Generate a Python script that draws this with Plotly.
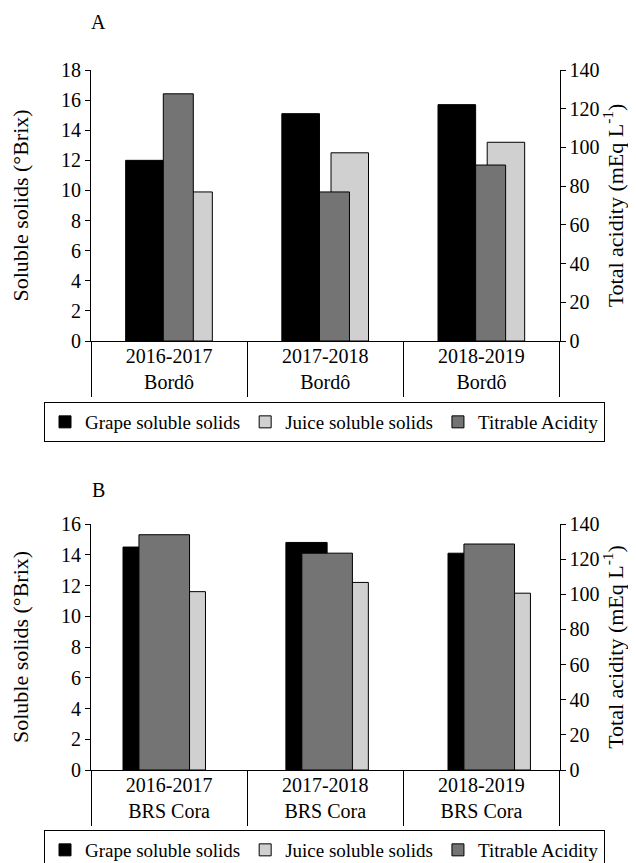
import plotly.graph_objects as go

# ---------------- data ----------------
seasons = ["2016-2017", "2017-2018", "2018-2019"]
cultivar_a = "Bordô"
cultivar_b = "BRS Cora"

grape_a = [12.0, 15.1, 15.7]      # °Brix
juice_a = [9.9, 12.5, 13.2]       # °Brix
acid_a = [127.7, 77.0, 90.9]      # mEq L-1

grape_b = [14.5, 14.8, 14.1]
juice_b = [11.6, 12.2, 11.5]
acid_b = [133.9, 123.4, 128.6]

series_names = ["Grape soluble solids", "Juice soluble solids", "Titrable Acidity"]

# ---------------- style ----------------
BODY = 8                     # default page margin around the plot div
W, H = 636 - 2 * BODY, 863 - BODY
FONT = "Liberation Serif, Times New Roman, Times, DejaVu Serif, serif"
C_GRAPE = "#000000"
C_JUICE = "#d0d0d0"
C_ACID = "#747474"


def px_x(p):
    return (p - BODY) / W


def px_y(p):
    return 1 - (p - BODY) / H


cats_a = [f"{s}<br>{cultivar_a}" for s in seasons]
cats_b = [f"{s}<br>{cultivar_b}" for s in seasons]

# bar geometry (category units)
geom_a = dict(grape=(-0.278, 0.241), juice=(0.037, 0.240), acid=(-0.037, 0.192))
geom_b = dict(grape=(-0.264, 0.264), juice=(0.0, 0.264), acid=(-0.162, 0.324))
shift_b = [-0.031, 0.012, 0.050]

fig = go.Figure()

line = dict(color="black", width=1)


def add_panel(cats, grape, juice, acid, xa, ya, ya2, legend, geom, shift):
    def off(o):
        return [o + s for s in shift]
    fig.add_trace(go.Bar(x=cats, y=grape, name=series_names[0], xaxis=xa, yaxis=ya,
                         marker=dict(color=C_GRAPE, line=line),
                         offset=off(geom["grape"][0]), width=geom["grape"][1],
                         legend=legend, hoverinfo="y"))
    fig.add_trace(go.Bar(x=cats, y=juice, name=series_names[1], xaxis=xa, yaxis=ya,
                         marker=dict(color=C_JUICE, line=line),
                         offset=off(geom["juice"][0]), width=geom["juice"][1],
                         legend=legend, hoverinfo="y"))
    fig.add_trace(go.Bar(x=cats, y=acid, name=series_names[2], xaxis=xa, yaxis=ya2,
                         marker=dict(color=C_ACID, line=line),
                         offset=off(geom["acid"][0]), width=geom["acid"][1],
                         legend=legend, hoverinfo="y"))


add_panel(cats_a, grape_a, juice_a, acid_a, "x", "y", "y2", "legend", geom_a, [0, 0, 0])
add_panel(cats_b, grape_b, juice_b, acid_b, "x2", "y3", "y4", "legend2", geom_b, shift_b)

tickfont = dict(family=FONT, size=20, color="black")
titlefont = dict(family=FONT, size=22, color="black")

xcommon = dict(type="category", range=[-0.5, 2.5], showline=True, linecolor="black",
               linewidth=1, ticks="outside", tickson="boundaries", ticklen=55,
               tickcolor="black", tickwidth=1, showgrid=False, zeroline=False,
               tickfont=tickfont, ticklabelstandoff=-3, fixedrange=True)
ycommon = dict(showline=True, linecolor="black", linewidth=1, ticks="outside",
               ticklen=5, tickcolor="black", tickwidth=1, showgrid=False,
               zeroline=False, tickfont=tickfont, fixedrange=True)

dom_x = [px_x(91), px_x(559.5)]
dom_a = [px_y(341), px_y(70)]
dom_b = [px_y(770), px_y(524)]

left_title = "Soluble solids (°Brix)"
right_title = "Total acidity (mEq L<sup>-1</sup>)"

legend_common = dict(orientation="h", xanchor="left", yanchor="top",
                     bordercolor="black", borderwidth=1, bgcolor="white",
                     font=dict(family=FONT, size=19, color="black"),
                     traceorder="normal", itemwidth=30)

fig.update_layout(
    width=W, height=H, margin=dict(l=0, r=0, t=0, b=0, autoexpand=False),
    paper_bgcolor="white", plot_bgcolor="white",
    font=dict(family=FONT, size=20, color="black"),
    barmode="overlay",
    xaxis=dict(xcommon, domain=dom_x, anchor="y"),
    yaxis=dict(ycommon, domain=dom_a, range=[0, 18], dtick=2, anchor="x",
               title=dict(text=left_title, font=titlefont, standoff=30)),
    yaxis2=dict(ycommon, range=[0, 140], dtick=20, overlaying="y", side="right",
                anchor="x", title=dict(text=right_title, font=titlefont, standoff=7)),
    xaxis2=dict(xcommon, domain=dom_x, anchor="y3"),
    yaxis3=dict(ycommon, domain=dom_b, range=[0, 16], dtick=2, anchor="x2",
                title=dict(text=left_title, font=titlefont, standoff=30)),
    yaxis4=dict(ycommon, range=[0, 140], dtick=20, overlaying="y3", side="right",
                anchor="x2", title=dict(text=right_title, font=titlefont, standoff=7)),
    legend=dict(legend_common, x=px_x(44), y=px_y(402)),
    legend2=dict(legend_common, x=px_x(44), y=px_y(830)),
    annotations=[
        dict(text="A", x=px_x(98), y=px_y(22), xref="paper", yref="paper",
             xanchor="center", yanchor="middle",
             showarrow=False, font=dict(family=FONT, size=20, color="black")),
        dict(text="B", x=px_x(98), y=px_y(490), xref="paper", yref="paper",
             xanchor="center", yanchor="middle",
             showarrow=False, font=dict(family=FONT, size=20, color="black")),
    ],
)

fig.write_html("out.html")
